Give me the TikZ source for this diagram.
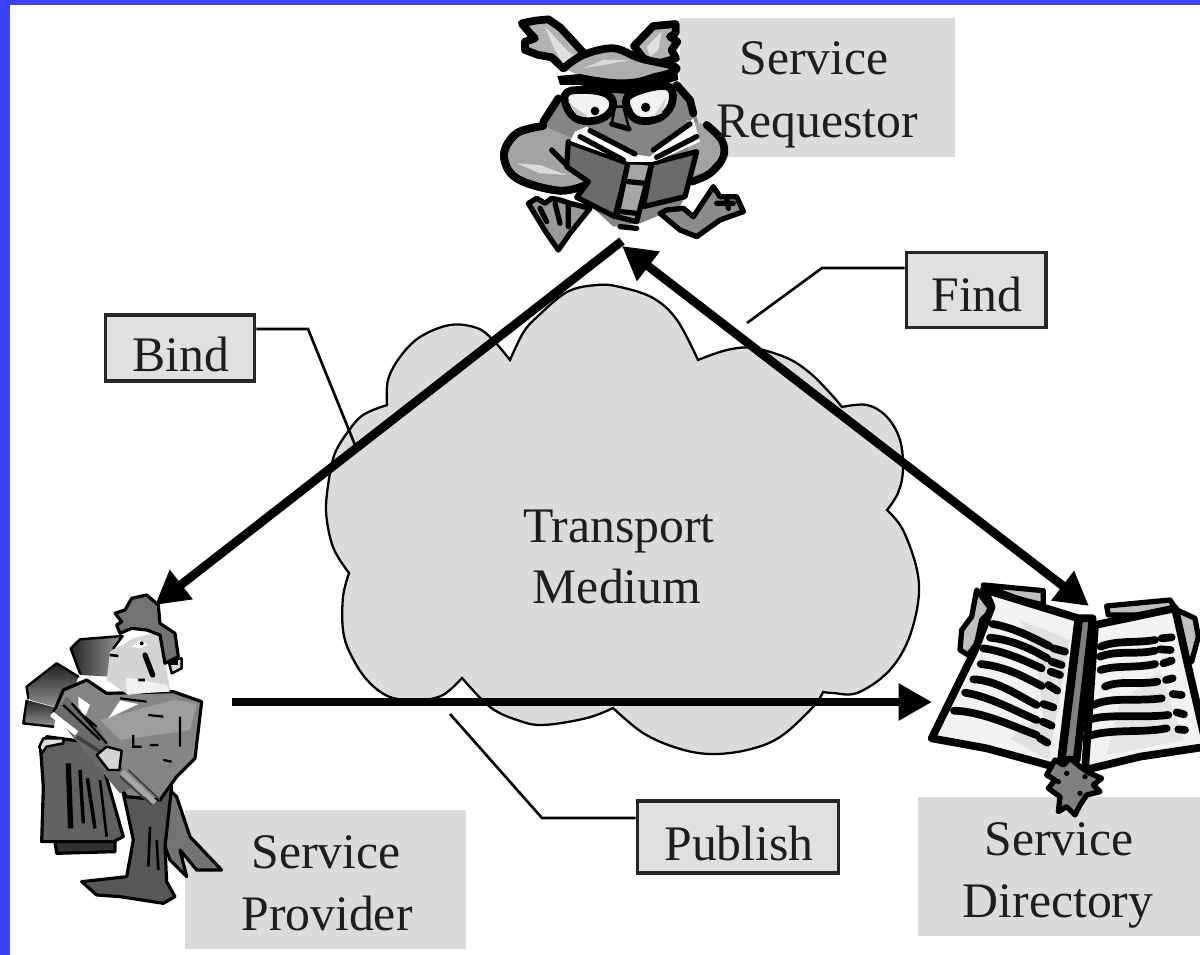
\documentclass[tikz,border=0pt]{standalone}
\usepackage{fontspec}
\setmainfont{Liberation Serif}
\usetikzlibrary{arrows.meta}
\definecolor{bluebar}{HTML}{4040FF}
\definecolor{cloudgray}{HTML}{DCDADD}
\definecolor{labelgray}{HTML}{E0E0E0}
\definecolor{textdark}{HTML}{1E1E1E}
\tikzset{
  txt/.style={anchor=base,text=textdark,inner sep=0pt,font=\fontsize{28.3}{34}\selectfont},
  graybox/.style={fill=cloudgray,draw=none},
  tagbox/.style={fill=labelgray,draw=black!85,line width=2pt},
  leader/.style={draw=black,line width=1.5pt,line join=miter},
  bigarrow/.style={draw=black,line width=5pt,-{Triangle[length=19pt,width=20pt]}},
  bigarrowboth/.style={draw=black,line width=5pt,{Triangle[length=19pt,width=20pt]}-{Triangle[length=19pt,width=20pt]}},
  ink/.style={draw=black,line width=3pt,line join=round,line cap=round},
  inkthin/.style={draw=black,line width=1.4pt,line join=round,line cap=round},
  inkheavy/.style={draw=black,line width=4.4pt,line join=round,line cap=round}
}
\begin{document}
\begin{tikzpicture}[x=0.02cm,y=-0.02cm]
\useasboundingbox (0,0) rectangle (1200,955);
\clip (0,0) rectangle (1200,955);
\fill[white] (0,0) rectangle (1200,955);
\fill[bluebar] (0,0) rectangle (1200,5);
\fill[bluebar] (0,0) rectangle (10,955);

% gray label panels
\fill[graybox] (680,18) rectangle (955,157);
\fill[graybox] (185,810) rectangle (466,949);
\fill[graybox] (918,797) rectangle (1200,936);

% cloud
\path[draw=black,line width=1.3pt,fill=cloudgray,line join=miter]
  plot[smooth,tension=.6] coordinates {(349,573)(333,547)(326,510)(330,473)}
  -- plot[smooth,tension=.6] coordinates {(330,473)(335,453)(347,433)(363,415)(387,405)}
  -- plot[smooth,tension=.6] coordinates {(387,405)(388,380)(400,357)(420,337)(450,325)(477,328)(493,340)(510,360)}
  -- plot[smooth,tension=.6] coordinates {(510,360)(523,333)(537,317)(567,292)(597,285)(620,287)(653,298)(677,320)(698,360)}
  -- plot[smooth,tension=.6] coordinates {(698,360)(727,350)(753,348)(787,358)(810,373)(830,393)(842,407)}
  -- plot[smooth,tension=.6] coordinates {(842,407)(867,405)(887,417)(900,440)(903,470)(898,493)(887,510)}
  -- plot[smooth,tension=.6] coordinates {(887,510)(903,530)(917,570)(918,603)(907,643)(887,673)(857,693)(833,693)(823,692)}
  -- plot[smooth,tension=.6] coordinates {(823,692)(813,707)(780,737)(747,750)(710,754)(677,748)(643,733)(613,708)}
  -- plot[smooth,tension=.6] coordinates {(613,708)(587,718)(543,725)(517,720)(490,707)(462,678)}
  -- plot[smooth,tension=.6] coordinates {(462,678)(443,695)(420,700)(390,697)(367,680)(350,653)(343,630)(343,597)(349,573)}
  -- cycle;

% ---------- owl ----------
\begin{scope}[shift={(480,0)},scale=0.33333]
  % body, no outline
  \fill[black!48] (240,290) -- (190,360) -- (230,430) -- (270,560) -- (400,680) -- (480,670) -- (600,620) -- (640,540) -- (665,400) -- (640,320) -- (590,250) -- (420,230) -- cycle;
  % wings
  \path[inkheavy,fill=black!36] plot[smooth,tension=.6] coordinates {(190,378)(110,400)(72,465)(110,535)(240,572)(330,550)};
  \fill[black!36] (190,378) -- (72,465) -- (240,572) -- (330,550) -- (290,420) -- cycle;
  \draw[inkheavy] plot[smooth,tension=.6] coordinates {(190,378)(110,400)(72,465)(110,535)(240,572)(330,550)};
  \fill[black!36] (620,360) -- (680,375) -- (730,440) -- (690,520) -- (630,545) -- cycle;
  \draw[inkheavy] plot[smooth,tension=.6] coordinates {(680,375)(725,420)(730,470)(690,520)(635,545)};
  \fill[black!15] (110,490) -- (180,495) -- (260,525) -- (180,520) -- cycle;
  % feet
  \path[ink,fill=black!40] (145,610) -- (170,595) -- (195,610) -- (215,595) -- (240,600) -- (270,610) -- (330,625) -- (270,700) -- (235,750) -- (200,700) -- cycle;
  \draw[ink] (180,625) -- (200,665) (225,610) -- (240,670) (265,610) -- (265,680);
  \path[ink,fill=black!45] (560,630) -- (610,625) -- (640,650) -- (700,560) -- (720,590) -- (770,590) -- (790,635) -- (720,660) -- (650,710) -- (600,690) -- (540,640) -- cycle;
  \draw[ink] (710,610) -- (760,610) (740,590) -- (745,625);
  % head sides
  \draw[inkheavy] (235,295) -- (190,365);
  \draw[inkheavy] (590,255) -- (630,300) -- (640,340);
  % ears
  \path[inkheavy,fill=black!30] (125,70) -- (165,62) -- (205,58) -- (240,82) -- (280,125) -- (310,158) -- (290,180) -- (250,205) -- (215,172) -- (175,165) -- (135,150) -- (135,125) -- (165,115) -- (150,100) -- cycle;
  \path[inkheavy,fill=black!30] (462,138) -- (520,78) -- (587,72) -- (587,100) -- (570,110) -- (592,125) -- (575,150) -- (588,175) -- (530,192) -- (490,175) -- cycle;
  \fill[black!12] (195,80) -- (260,150) -- (285,170) -- (250,192) -- (222,145) -- cycle;
  \fill[black!12] (500,140) -- (545,95) -- (535,150) -- (510,170) -- cycle;
  % crown
  \path[inkheavy,fill=black!32] plot[smooth,tension=.6] coordinates {(250,205)(310,165)(400,145)(480,175)(590,205)(500,240)(420,250)(330,240)};
  \fill[black!15] (310,205) -- (370,180) -- (450,180) -- (370,195) -- cycle;
  % brow band
  \fill[black] (232,228) -- (300,222) -- (390,240) -- (450,245) -- (520,220) -- (590,205) -- (595,240) -- (510,265) -- (440,282) -- (385,277) -- (300,255) -- (240,255) -- cycle;
  % glasses
  \path[inkheavy,fill=white!95!black] plot[smooth cycle,tension=.7] coordinates {(255,285)(310,270)(385,285)(395,330)(345,362)(280,350)};
  \path[inkheavy,fill=white!95!black] plot[smooth cycle,tension=.7] coordinates {(450,285)(555,258)(578,300)(545,350)(480,362)(445,330)};
  \fill[black] (345,333) circle (13);
  \fill[black] (497,322) circle (14);
  \fill[black!25] (262,300) -- (290,345) -- (325,350) -- (280,320) -- cycle;
  \fill[black!18] (520,350) -- (560,290) -- (545,340) -- cycle;
  % beak
  \path[inkthin,fill=black!50] (405,320) -- (430,320) -- (447,385) -- (395,372) -- cycle;
  \draw[ink] (395,372) -- (447,387);
  % book covers
  \path[ink,fill=black!58] (265,425) -- (445,490) -- (405,650) -- (290,592) -- (325,545) -- (260,500) -- cycle;
  \path[ink,fill=black!58] (515,490) -- (650,455) -- (615,590) -- (490,620) -- cycle;
  % spine
  \path[ink,fill=black!35] (445,482) -- (515,490) -- (470,665) -- (410,650) -- cycle;
  \draw[ink] (445,545) -- (495,550) (425,635) -- (470,640) (420,680) -- (470,685);
  % pages
  \path[draw=none,fill=white] (285,395) -- (320,380) -- (445,460) -- (510,470) -- (640,355) -- (660,425) -- (515,490) -- (445,490) -- (270,425) -- cycle;
  \draw[ink] (330,392) -- (465,462);
  \draw[ink] (300,410) -- (430,480);
  \draw[ink] (520,450) -- (630,372);
  \draw[ink] (530,472) -- (650,410);
  \draw[inkthin] (265,425) -- (445,490) -- (515,490) -- (650,455);
  \draw[ink] (215,450) -- (260,495);
\end{scope}

% ---------- man ----------
\begin{scope}[shift={(0,580)},scale=0.33333]
  % rear hats
  \shade[left color=black!85,right color=black!40] (212,205) -- (240,178) -- (368,168) -- (340,210) -- (330,290) -- (240,285) -- cycle;
  \draw[inkthin] (340,205) -- (368,168) -- (240,178) -- (212,205) -- (240,280);
  \shade[top color=black!88,bottom color=black!40] (80,320) -- (170,250) -- (235,290) -- (200,390) -- (90,360) -- cycle;
  \draw[inkthin] (85,355) -- (80,320) -- (170,250) -- (235,290);
  \shade[top color=black!85,bottom color=black!40] (70,430) -- (80,360) -- (175,385) -- (160,445) -- cycle;
  \draw[inkthin] (160,440) -- (70,430) -- (80,362);
  % rear coats
  \path[draw=black,line width=1.8pt,line join=round,fill=black!62] (122,510) -- (140,470) -- (290,490) -- (370,770) -- (340,785) -- (125,785) -- (130,620) -- cycle;
  \path[draw=black,line width=1.8pt,line join=round,fill=black!80] (165,785) -- (345,785) -- (345,815) -- (170,820) -- cycle;
  \draw[line width=3pt] (205,550) -- (212,745);
  \draw[line width=2pt] (240,570) -- (250,730);
  \draw[line width=2pt] (262,595) -- (285,745);
  \draw[line width=1.5pt] (300,600) -- (320,770);
  % coat tail and legs
  \path[draw=black,line width=1.8pt,line join=round,fill=black!55] (500,620) -- (530,650) -- (570,770) -- (665,870) -- (590,870) -- (540,810) -- (560,890) -- (510,840) -- (480,760) -- cycle;
  \path[draw=black,line width=1.8pt,line join=round,fill=black!66] (370,640) -- (515,620) -- (495,800) -- (500,905) -- (525,950) -- (490,970) -- (360,950) -- (290,945) -- (245,905) -- (380,890) -- (400,780) -- cycle;
  \draw[line width=1.5pt] (450,740) -- (445,860) (470,780) -- (475,870);
  % jacket
  \path[draw=black,line width=1.8pt,line join=round,fill=black!48] (320,340) -- (520,335) -- (605,365) -- (585,535) -- (530,590) -- (480,660) -- (380,650) -- (330,580) -- (240,480) -- (160,400) -- (190,330) -- (260,300) -- cycle;
  \fill[black!58] (160,400) -- (200,350) -- (300,450) -- (400,620) -- (360,640) -- cycle;
  \fill[black!38] (300,420) -- (520,360) -- (590,370) -- (570,450) -- (360,480) -- cycle;
  \path[fill=white] (325,415) -- (360,362) -- (415,372) -- cycle;
  \draw[line width=1.2pt] (360,355) -- (440,365);
  \draw[line width=1.3pt] (400,465) -- (400,500) -- (425,500) (450,495) -- (475,495) (540,410) -- (540,500) (445,405) -- (490,410) (490,540) -- (515,545);
  % arm detail
  \fill[white] (235,350) -- (270,375) -- (255,410) -- (235,380) -- cycle;
  \draw[line width=1.2pt] (190,375) -- (300,480) (215,370) -- (320,490) (235,395) -- (290,440);
  % cane
  \draw[white,line width=3pt] (155,402) -- (230,460);
  \draw[black!35,line width=3pt] (365,575) -- (465,668);
  \draw[black!75,line width=1pt] (360,590) -- (455,675) (385,570) -- (480,660);
  \draw[black!75,line width=2pt] (230,470) -- (300,515);
  % hand
  \path[inkthin,fill=black!17] (290,525) -- (320,500) -- (365,512) -- (358,570) -- (325,570) -- cycle;
  \path[inkthin,fill=black!12] (118,500) -- (130,475) -- (190,475) -- (190,490) -- (140,500) -- (125,520) -- cycle;
  % face
  \path[draw=none,fill=black!17] (330,215) -- (400,175) -- (480,155) -- (495,240) -- (510,330) -- (385,345) -- (320,300) -- cycle;
  \path[draw=none,fill=black!6] (378,292) -- (500,315) -- (510,335) -- (380,342) -- cycle;
  \fill[white] (395,200) -- (420,180) -- (445,195) -- (420,205) -- cycle;
  \fill[black] (425,190) circle (6);
  \draw[line width=3pt,line cap=round] (435,225) -- (458,285);
  \draw[line width=1.5pt] (415,300) -- (435,300) (330,225) -- (355,228);
  % ear
  \path[inkthin,fill=black!15] (505,240) -- (545,235) -- (545,265) -- (515,280) -- cycle;
  \fill[black] (510,240) rectangle (535,255);
  % hair
  \path[draw=black,line width=1.8pt,line join=round,fill=black!55] (360,160) -- (350,135) -- (365,125) -- (345,100) -- (375,90) -- (395,55) -- (440,45) -- (475,75) -- (480,130) -- (525,160) -- (535,230) -- (495,250) -- (480,165) -- (440,150) -- (395,145) -- cycle;
\end{scope}

% ---------- directory book ----------
\begin{scope}[shift={(920,560)},scale=0.33333]
  % top tabs
  \path[ink,fill=black!25] (190,75) -- (370,92) -- (370,135) -- (290,115) -- cycle;
  \path[ink,fill=black!25] (560,138) -- (750,120) -- (770,150) -- (660,165) -- (565,165) -- cycle;
  % side tabs
  \path[ink,fill=black!25] (170,90) -- (215,150) -- (185,180) -- (170,250) -- (145,285) -- (120,270) -- (125,210) -- (155,170) -- cycle;
  \path[ink,fill=black!25] (760,145) -- (825,175) -- (835,230) -- (815,305) -- (785,290) -- cycle;
  % pages
  \path[inkheavy,fill=white!95!black,draw=black] (192,88) -- (215,140) -- (165,270) -- (35,535) -- (200,565) -- (420,625) -- (475,175) -- cycle;
  \path[inkheavy,fill=white!95!black,draw=black] (525,195) -- (765,145) -- (800,300) -- (860,560) -- (660,590) -- (495,630) -- cycle;
  \fill[black!12] (300,180) -- (450,240) -- (385,600) -- (270,535) -- (370,470) -- (350,300) -- cycle;
  \fill[black!10] (600,430) -- (720,330) -- (790,540) -- (560,585) -- cycle;
  % spine
  \path[inkheavy,fill=black!50] (478,175) -- (518,175) -- (470,600) -- (425,600) -- cycle;
  % left lines
  \draw[inkheavy] (218,192) .. controls (290,205) and (350,240) .. (388,258);
  \draw[inkheavy] (210,233) .. controls (280,240) and (340,270) .. (382,295);
  \draw[inkheavy] (190,265) .. controls (260,275) and (320,305) .. (365,325);
  \draw[inkheavy] (182,312) .. controls (260,320) and (320,355) .. (365,378);
  \draw[inkheavy] (160,358) .. controls (230,360) and (300,410) .. (350,435);
  \draw[inkheavy] (135,398) .. controls (210,410) and (290,455) .. (350,480);
  \draw[inkheavy] (102,452) .. controls (190,455) and (280,500) .. (350,525);
  \draw[inkheavy] (400,265) -- (435,275);
  \draw[inkheavy] (395,305) -- (425,315);
  \draw[inkheavy] (392,335) -- (420,345);
  \draw[inkheavy] (385,375) -- (412,392);
  \draw[inkheavy] (370,432) -- (400,442);
  \draw[inkheavy] (368,485) -- (395,497);
  \draw[inkheavy] (360,535) -- (382,548);
  % right lines
  \draw[inkheavy] (542,260) .. controls (590,240) and (650,250) .. (705,240);
  \draw[inkheavy] (540,290) .. controls (590,270) and (650,285) .. (705,272);
  \draw[inkheavy] (542,330) .. controls (590,315) and (650,325) .. (705,312);
  \draw[inkheavy] (555,380) .. controls (600,360) and (660,375) .. (712,365);
  \draw[inkheavy] (520,435) .. controls (570,410) and (650,425) .. (725,415);
  \draw[inkheavy] (505,480) .. controls (560,460) and (660,475) .. (745,465);
  \draw[inkheavy] (500,530) .. controls (570,505) and (660,520) .. (740,505);
  \draw[inkheavy] (725,235) -- (755,232);
  \draw[inkheavy] (720,268) -- (752,270);
  \draw[inkheavy] (730,310) -- (755,302);
  \draw[inkheavy] (738,360) -- (758,355);
  \draw[inkheavy] (758,402) -- (785,405);
  \draw[inkheavy] (770,457) -- (792,463);
  \draw[inkheavy] (775,508) -- (795,510);
  % seal
  \path[draw=black,line width=3pt,line join=round,fill=black!50] (405,600) -- (430,615) -- (450,595) -- (480,620) -- (510,640) -- (545,655) -- (520,675) -- (540,695) -- (500,705) -- (480,735) -- (465,765) -- (440,740) -- (415,755) -- (420,710) -- (385,685) -- (405,660) -- (380,645) -- cycle;
  \fill[black] (440,640) circle (8) (495,650) circle (8) (415,665) circle (8) (480,700) circle (8);
\end{scope}

% anchors for the connectors
\coordinate (reqL) at (622,241);
\coordinate (reqR) at (622,246);
\coordinate (provTip) at (155,605);
\coordinate (dirTip) at (1089,606);
\coordinate (pubStart) at (232,702);
\coordinate (pubTip) at (932,702);

% big arrows
\draw[bigarrow] (reqL) -- (provTip);
\draw[bigarrowboth] (reqR) -- (dirTip);
\draw[bigarrow] (pubStart) -- (pubTip);

% tag boxes
\node[tagbox,minimum width=0pt,inner sep=0pt] (bindBox) at (180,348) {\rule{0pt}{37.4pt}\rule{85pt}{0pt}};
\node[tagbox,inner sep=0pt] (findBox) at (976,290) {\rule{0pt}{42.5pt}\rule{79.4pt}{0pt}};
\node[tagbox,inner sep=0pt] (publishBox) at (738,837) {\rule{0pt}{41pt}\rule{114.5pt}{0pt}};

% leaders
\coordinate (bindEnd) at (355,445);
\coordinate (bindKnee) at (308,329);
\coordinate (findEnd) at (747,323);
\coordinate (findKnee) at (822,268);
\coordinate (pubEnd) at (450,714);
\coordinate (pubKnee) at (542,818);
\draw[leader] (bindBox.east |- bindKnee) -- (bindKnee) -- (bindEnd);
\draw[leader] (findBox.west |- findKnee) -- (findKnee) -- (findEnd);
\draw[leader] (publishBox.west |- pubKnee) -- (pubKnee) -- (pubEnd);

% texts
\node[txt] (t1) at (814,75) {Service};
\node[txt] (t2) at (817,138) {Requestor};
\node[txt] (t3) at (619,543) {Transport};
\node[txt] (t4) at (617,604) {Medium};
\node[txt] (t5) at (326,868) {Service};
\node[txt] (t6) at (327,930) {Provider};
\node[txt] (t7) at (1059,855) {Service};
\node[txt] (t8) at (1058,917) {Directory};
\node[txt] (t9) at (181,372) {Bind};
\node[txt] (t10) at (977,312) {Find};
\node[txt] (t11) at (739,860) {Publish};
\end{tikzpicture}
\end{document}
